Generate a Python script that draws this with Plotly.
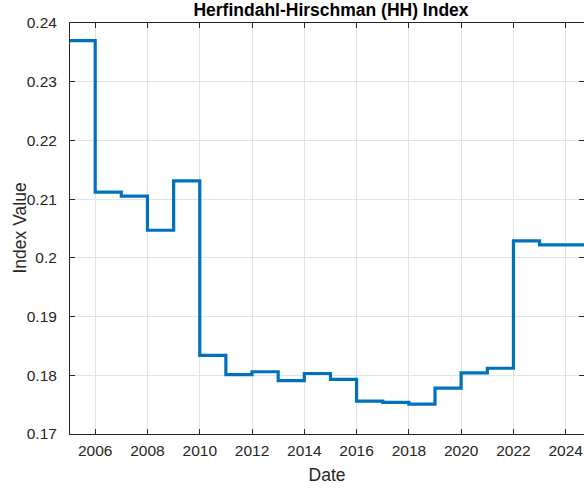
import plotly.graph_objects as go

# Step-change dates (start of each level) and the HH index level
dates = ["2005-01-14", "2006-01-01", "2007-01-01", "2008-01-01", "2009-01-01",
         "2010-01-01", "2011-01-01", "2012-01-01", "2013-01-01", "2014-01-01",
         "2015-01-01", "2016-01-01", "2017-01-01", "2018-01-01", "2019-01-01",
         "2020-01-01", "2021-01-01", "2022-01-01", "2023-01-01", "2025-01-01"]
hh_index = [0.2370, 0.2112, 0.2105, 0.2047, 0.2131,
            0.1834, 0.1801, 0.1806, 0.1791, 0.1803,
            0.1793, 0.1756, 0.1754, 0.1751, 0.1778,
            0.1804, 0.1812, 0.2029, 0.2022, 0.2022]

x_tick_vals = ["2006-01-01", "2008-01-01", "2010-01-01", "2012-01-01", "2014-01-01",
               "2016-01-01", "2018-01-01", "2020-01-01", "2022-01-01", "2024-01-01"]
x_tick_text = ["2006", "2008", "2010", "2012", "2014", "2016", "2018", "2020", "2022", "2024"]

FONT = "Arial, Liberation Sans, Helvetica, sans-serif"
AX = "#262626"
GRID = "#e3e3e3"

fig = go.Figure()
fig.add_trace(go.Scatter(
    x=dates, y=hh_index, mode="lines",
    line=dict(shape="hv", color="#0072BD", width=3.2),
    showlegend=False, hoverinfo="skip"))

fig.update_layout(
    width=584, height=489,
    margin=dict(l=70, r=0, t=23, b=55),
    paper_bgcolor="white", plot_bgcolor="white",
    font=dict(family=FONT, size=15.5, color=AX),
    title=dict(text="<b>Herfindahl-Hirschman (HH) Index</b>",
               font=dict(family=FONT, size=17.5, color="#000000"),
               xref="container", x=331/584, xanchor="center",
               yref="container", y=1-10/489, yanchor="middle"),
)

fig.add_annotation(
    text="Index Value", textangle=-90, showarrow=False,
    xref="paper", x=0, xanchor="center", xshift=-51,
    yref="paper", y=0.5, yanchor="middle",
    font=dict(family=FONT, size=17.5, color=AX))

fig.update_xaxes(
    type="date", range=["2005-01-14", "2024-09-13"],
    tickmode="array", tickvals=x_tick_vals, ticktext=x_tick_text,
    ticks="inside", ticklen=5, tickcolor=AX, tickwidth=1,
    showline=True, linecolor=AX, linewidth=1, mirror="ticks",
    showgrid=True, gridcolor=GRID, gridwidth=1, zeroline=False,
    tickfont=dict(size=15.5, color=AX), ticklabelstandoff=2,
    title=dict(text="Date", font=dict(size=17.5, color=AX), standoff=11),
)
fig.update_yaxes(
    range=[0.17, 0.24], dtick=0.01, tick0=0.17,
    ticks="inside", ticklen=5, tickcolor=AX, tickwidth=1,
    showline=True, linecolor=AX, linewidth=1, mirror="ticks",
    showgrid=True, gridcolor=GRID, gridwidth=1, zeroline=False,
    tickfont=dict(size=15.5, color=AX), ticklabelstandoff=9,
)

fig.write_html("out.html", config={"displayModeBar": False},
               post_script="document.body.style.margin='0';")
